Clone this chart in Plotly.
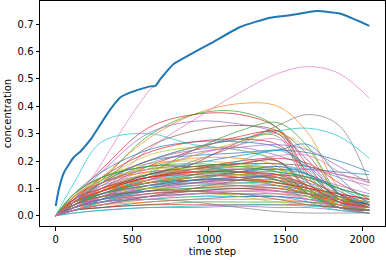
import plotly.graph_objects as go

# time grid shared by the thin lines
steps = [0, 120, 300, 600, 900, 1200, 1450, 1650, 1850, 2047]

# thick highlighted series
main_steps = [0, 20, 54, 117, 163, 228, 293, 358, 423, 488, 553, 618, 651, 684,
              770, 879, 1009, 1204, 1400, 1530, 1704, 1855, 2047]
main_conc = [0.035, 0.095, 0.158, 0.213, 0.236, 0.279, 0.335, 0.39, 0.433, 0.451,
             0.463, 0.473, 0.475, 0.50, 0.555, 0.59, 0.629, 0.69, 0.724, 0.733,
             0.748, 0.739, 0.694]

# pink series that climbs to meet the thick line
pink_steps = [0, 150, 336, 450, 618, 660]
pink_conc = [0.0, 0.07, 0.224, 0.33, 0.463, 0.477]

conc = [
    [0, 0.06, 0.14, 0.28, 0.37, 0.41, 0.40, 0.30, 0.10, 0.03],
    [0, 0.07, 0.17, 0.32, 0.37, 0.37, 0.32, 0.18, 0.06, 0.03],
    [0, 0.05, 0.13, 0.29, 0.37, 0.38, 0.32, 0.14, 0.05, 0.02],
    [0, 0.03, 0.09, 0.24, 0.35, 0.45, 0.52, 0.545, 0.52, 0.43],
    [0, 0.04, 0.08, 0.14, 0.20, 0.26, 0.33, 0.37, 0.33, 0.12],
    [0, 0.05, 0.12, 0.20, 0.25, 0.28, 0.31, 0.32, 0.29, 0.21],
    [0, 0.12, 0.27, 0.30, 0.26, 0.24, 0.20, 0.12, 0.06, 0.04],
    [0, 0.06, 0.16, 0.30, 0.345, 0.335, 0.30, 0.20, 0.08, 0.03],
    [0, 0.05, 0.12, 0.25, 0.31, 0.33, 0.31, 0.22, 0.08, 0.04],
    [0, 0.02, 0.06, 0.15, 0.24, 0.31, 0.34, 0.25, 0.08, 0.03],
    [0, 0.03, 0.07, 0.13, 0.19, 0.27, 0.31, 0.15, 0.05, 0.02],
    [0, 0.04, 0.10, 0.18, 0.24, 0.29, 0.30, 0.12, 0.04, 0.02],
    [0, 0.05, 0.12, 0.20, 0.22, 0.23, 0.24, 0.23, 0.20, 0.16],
    [0, 0.04, 0.09, 0.14, 0.16, 0.17, 0.17, 0.17, 0.16, 0.15],
    [0, 0.05, 0.12, 0.20, 0.24, 0.25, 0.22, 0.18, 0.14, 0.11],
    [0, 0.06, 0.13, 0.22, 0.25, 0.24, 0.20, 0.10, 0.04, 0.02],
    [0, 0.07, 0.12, 0.17, 0.18, 0.17, 0.14, 0.10, 0.06, 0.04],
    [0, 0.05, 0.10, 0.15, 0.17, 0.18, 0.17, 0.08, 0.03, 0.02],
    [0, 0.07, 0.14, 0.19, 0.20, 0.19, 0.17, 0.14, 0.10, 0.07],
    [0, 0.04, 0.08, 0.13, 0.16, 0.18, 0.19, 0.15, 0.06, 0.03],
    [0, 0.04, 0.09, 0.15, 0.19, 0.22, 0.24, 0.26, 0.14, 0.04],
    [0, 0.06, 0.12, 0.18, 0.21, 0.21, 0.18, 0.08, 0.03, 0.02],
    [0, 0.04, 0.08, 0.12, 0.13, 0.13, 0.11, 0.08, 0.05, 0.04],
    [0, 0.04, 0.08, 0.13, 0.17, 0.20, 0.21, 0.19, 0.12, 0.06],
    [0, 0.07, 0.12, 0.16, 0.17, 0.16, 0.14, 0.10, 0.06, 0.04],
    [0, 0.05, 0.10, 0.15, 0.18, 0.19, 0.20, 0.09, 0.03, 0.02],
    [0, 0.03, 0.07, 0.12, 0.16, 0.19, 0.22, 0.22, 0.16, 0.09],
    [0, 0.06, 0.11, 0.15, 0.16, 0.15, 0.13, 0.10, 0.07, 0.05],
    [0, 0.04, 0.09, 0.14, 0.17, 0.18, 0.17, 0.13, 0.08, 0.04],
    [0, 0.05, 0.09, 0.13, 0.15, 0.16, 0.16, 0.14, 0.10, 0.07],
    [0, 0.03, 0.06, 0.11, 0.14, 0.16, 0.17, 0.15, 0.10, 0.05],
    [0, 0.06, 0.10, 0.13, 0.14, 0.13, 0.12, 0.09, 0.06, 0.04],
    [0, 0.04, 0.08, 0.12, 0.14, 0.15, 0.15, 0.07, 0.03, 0.02],
    [0, 0.05, 0.09, 0.12, 0.13, 0.13, 0.12, 0.10, 0.08, 0.06],
    [0, 0.03, 0.07, 0.11, 0.13, 0.14, 0.14, 0.12, 0.08, 0.04],
    [0, 0.04, 0.07, 0.10, 0.12, 0.13, 0.13, 0.11, 0.07, 0.04],
    [0, 0.05, 0.08, 0.11, 0.12, 0.12, 0.11, 0.09, 0.06, 0.04],
    [0, 0.03, 0.06, 0.10, 0.12, 0.13, 0.12, 0.10, 0.06, 0.03],
    [0, 0.04, 0.07, 0.09, 0.11, 0.12, 0.12, 0.10, 0.07, 0.05],
    [0, 0.02, 0.05, 0.09, 0.11, 0.12, 0.12, 0.09, 0.05, 0.02],
    [0, 0.04, 0.06, 0.09, 0.10, 0.11, 0.11, 0.09, 0.06, 0.04],
    [0, 0.03, 0.06, 0.08, 0.10, 0.11, 0.10, 0.08, 0.05, 0.03],
    [0, 0.05, 0.07, 0.09, 0.10, 0.10, 0.09, 0.08, 0.06, 0.05],
    [0, 0.03, 0.05, 0.08, 0.09, 0.10, 0.10, 0.08, 0.05, 0.02],
    [0, 0.04, 0.06, 0.08, 0.09, 0.09, 0.09, 0.08, 0.06, 0.04],
    [0, 0.02, 0.04, 0.07, 0.09, 0.10, 0.09, 0.07, 0.04, 0.02],
    [0, 0.03, 0.05, 0.07, 0.08, 0.09, 0.09, 0.07, 0.05, 0.03],
    [0, 0.04, 0.06, 0.07, 0.08, 0.08, 0.08, 0.07, 0.05, 0.04],
    [0, 0.02, 0.04, 0.06, 0.07, 0.08, 0.08, 0.07, 0.05, 0.03],
    [0, 0.03, 0.05, 0.06, 0.07, 0.07, 0.07, 0.06, 0.05, 0.03],
    [0, 0.02, 0.03, 0.05, 0.06, 0.07, 0.07, 0.06, 0.04, 0.02],
    [0, 0.03, 0.04, 0.05, 0.06, 0.06, 0.06, 0.05, 0.04, 0.03],
    [0, 0.02, 0.03, 0.04, 0.05, 0.05, 0.05, 0.05, 0.04, 0.03],
    [0, 0.02, 0.03, 0.04, 0.04, 0.04, 0.04, 0.04, 0.03, 0.02],
    [0, 0.01, 0.02, 0.03, 0.03, 0.035, 0.03, 0.03, 0.02, 0.01],
    [0, 0.05, 0.09, 0.14, 0.17, 0.19, 0.20, 0.10, 0.03, 0.02],
    [0, 0.05, 0.10, 0.17, 0.22, 0.26, 0.28, 0.20, 0.06, 0.02],
    [0, 0.07, 0.13, 0.20, 0.25, 0.28, 0.29, 0.10, 0.03, 0.01],
    [0, 0.04, 0.09, 0.16, 0.22, 0.27, 0.30, 0.24, 0.07, 0.02],
    [0, 0.04, 0.08, 0.12, 0.14, 0.15, 0.13, 0.05, 0.02, 0.01],
    [0, 0.08, 0.16, 0.24, 0.27, 0.27, 0.25, 0.18, 0.08, 0.04],
    [0, 0.07, 0.12, 0.16, 0.16, 0.14, 0.11, 0.08, 0.05, 0.04],
    [0, 0.08, 0.14, 0.18, 0.18, 0.16, 0.13, 0.09, 0.06, 0.05],
    [0, 0.06, 0.14, 0.23, 0.27, 0.28, 0.26, 0.16, 0.06, 0.03],
    [0, 0.05, 0.11, 0.19, 0.23, 0.25, 0.26, 0.24, 0.18, 0.12],
    [0, 0.04, 0.09, 0.15, 0.18, 0.19, 0.19, 0.18, 0.15, 0.13],
    [0, 0.03, 0.07, 0.13, 0.16, 0.17, 0.18, 0.17, 0.15, 0.12],
    [0, 0.06, 0.12, 0.17, 0.18, 0.16, 0.13, 0.08, 0.04, 0.03],
    [0, 0.07, 0.13, 0.17, 0.17, 0.15, 0.12, 0.09, 0.06, 0.05],
    [0, 0.02, 0.05, 0.10, 0.15, 0.20, 0.24, 0.17, 0.05, 0.02],
    [0, 0.03, 0.06, 0.10, 0.13, 0.16, 0.18, 0.15, 0.09, 0.04],
    [0, 0.05, 0.09, 0.14, 0.16, 0.16, 0.14, 0.08, 0.04, 0.02],
    [0, 0.04, 0.08, 0.12, 0.15, 0.17, 0.16, 0.08, 0.03, 0.01],
    [0, 0.06, 0.10, 0.14, 0.15, 0.14, 0.12, 0.10, 0.08, 0.06],
    [0, 0.03, 0.06, 0.09, 0.12, 0.14, 0.15, 0.14, 0.11, 0.08],
    [0, 0.02, 0.04, 0.07, 0.10, 0.13, 0.15, 0.13, 0.07, 0.03],
    [0, 0.04, 0.07, 0.10, 0.11, 0.11, 0.09, 0.06, 0.03, 0.01],
    [0, 0.03, 0.05, 0.06, 0.05, 0.03, 0.015, 0.01, 0.01, 0.01],
    [0, 0.05, 0.08, 0.10, 0.09, 0.07, 0.05, 0.04, 0.03, 0.02],
    [0, 0.01, 0.02, 0.03, 0.035, 0.04, 0.04, 0.035, 0.03, 0.02],
    [0, 0.05, 0.08, 0.11, 0.13, 0.14, 0.14, 0.11, 0.07, 0.04],
    [0, 0.05, 0.09, 0.12, 0.14, 0.15, 0.14, 0.11, 0.07, 0.05],
    [0, 0.08, 0.14, 0.18, 0.19, 0.18, 0.16, 0.14, 0.10, 0.07],
    [0, 0.05, 0.09, 0.14, 0.16, 0.16, 0.15, 0.11, 0.05, 0.03],
    [0, 0.03, 0.05, 0.07, 0.08, 0.08, 0.07, 0.05, 0.03, 0.02],
    [0, 0.04, 0.07, 0.09, 0.09, 0.08, 0.06, 0.04, 0.03, 0.02],
    [0, 0.02, 0.04, 0.06, 0.08, 0.09, 0.08, 0.06, 0.04, 0.03],
    [0, 0.05, 0.08, 0.11, 0.12, 0.11, 0.10, 0.08, 0.07, 0.06],
]

tab10 = ["#1f77b4", "#ff7f0e", "#2ca02c", "#d62728", "#9467bd",
         "#8c564b", "#e377c2", "#7f7f7f", "#bcbd22", "#17becf"]
thin_colors = ["#ff7f0e", "#d62728", "#2ca02c", "#e377c2", "#7f7f7f", "#17becf",
               "#17becf", "#9467bd", "#8c564b", "#2ca02c", "#d62728", "#d62728",
               "#1f77b4", "#1f77b4", "#9467bd", "#bcbd22"]

fig = go.Figure()
for i, ys in enumerate(conc):
    col = thin_colors[i] if i < len(thin_colors) else tab10[i % 10]
    fig.add_trace(go.Scatter(x=steps, y=ys, mode="lines",
                             line=dict(color=col, width=0.7, shape="spline", smoothing=1.0),
                             hoverinfo="skip", showlegend=False))

fig.add_trace(go.Scatter(x=pink_steps, y=pink_conc, mode="lines",
                         line=dict(color="#e377c2", width=0.7, shape="spline", smoothing=0.6),
                         showlegend=False))
fig.add_trace(go.Scatter(x=main_steps, y=main_conc, mode="lines",
                         line=dict(color="#1f77b4", width=2, shape="spline", smoothing=0.5),
                         showlegend=False))

font = dict(family="DejaVu Sans", size=10, color="black")
axis_common = dict(showline=True, linecolor="black", linewidth=1, mirror=True,
                   ticks="outside", ticklen=3.5, tickwidth=0.8, tickcolor="black",
                   showgrid=False, zeroline=False, tickfont=font)

fig.update_layout(
    width=386, height=260,
    margin=dict(l=40, r=1, t=1, b=34),
    paper_bgcolor="white", plot_bgcolor="white",
    font=font,
    xaxis=dict(range=[-102.35, 2149.35], tickvals=[0, 500, 1000, 1500, 2000],
               title=dict(text="time step", font=font, standoff=4), **axis_common),
    yaxis=dict(range=[-0.0374, 0.785], tickvals=[0, 0.1, 0.2, 0.3, 0.4, 0.5, 0.6, 0.7],
               tickformat=".1f",
               title=dict(text="concentration", font=font, standoff=4), **axis_common),
)

fig.write_html("out.html", config={"displayModeBar": False},
               post_script="document.body.style.margin='0px';document.body.style.overflow='hidden';")
